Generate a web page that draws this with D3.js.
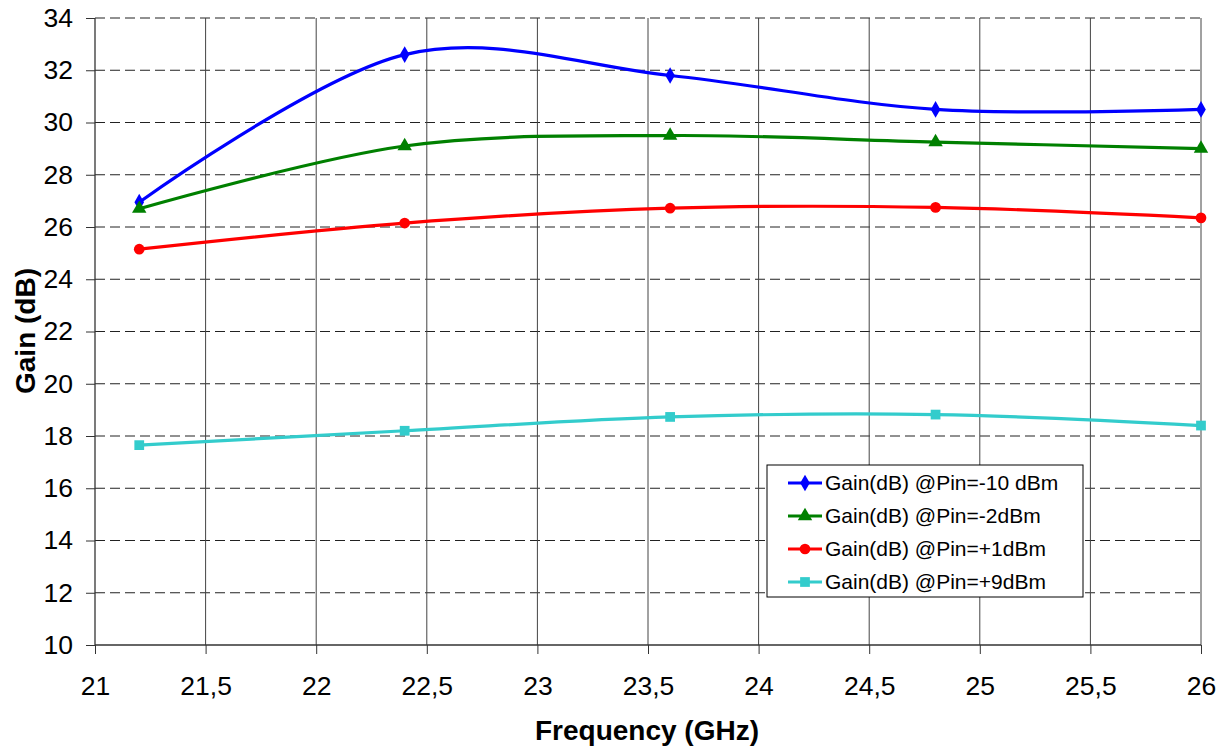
<!DOCTYPE html>
<html>
<head>
<meta charset="utf-8">
<script src="https://cdn.jsdelivr.net/npm/d3@7"></script>
<style>
    body { margin: 0; background: #fff; }
    svg { display: block; font-family: "Liberation Sans", Arial, sans-serif; }
</style>
</head>
<body>
<div id="chart"></div>
<script>
// Dados do gráfico
const frequencies = [21.2, 22.4, 23.6, 24.8, 26];
const gainPinM10 = [26.95, 32.6, 31.8, 30.5, 30.5];
const gainPinM2 = [26.7, 29.1, 29.5, 29.25, 29.0];
const gainPinP1 = [25.15, 26.15, 26.72, 26.75, 26.35];
const gainPinP9 = [17.65, 18.2, 18.73, 18.82, 18.4];
const seriesNames = [
    "Gain(dB) @Pin=-10 dBm",
    "Gain(dB) @Pin=-2dBm",
    "Gain(dB) @Pin=+1dBm",
    "Gain(dB) @Pin=+9dBm"
];
const xTicks = [21, 21.5, 22, 22.5, 23, 23.5, 24, 24.5, 25, 25.5, 26];
const yTicks = [10, 12, 14, 16, 18, 20, 22, 24, 26, 28, 30, 32, 34];

const series = [
    { name: seriesNames[0], values: gainPinM10, color: "#0000ff", marker: "diamond" },
    { name: seriesNames[1], values: gainPinM2, color: "#008000", marker: "triangle" },
    { name: seriesNames[2], values: gainPinP1, color: "#ff0000", marker: "circle" },
    { name: seriesNames[3], values: gainPinP9, color: "#33cccc", marker: "square" }
];

const width = 1225, height = 747;
const margin = { top: 18, right: 24, bottom: 102, left: 95 };
const innerW = width - margin.left - margin.right;
const innerH = height - margin.top - margin.bottom;

const svg = d3.select("#chart").append("svg")
    .attr("width", width)
    .attr("height", height);

const g = svg.append("g")
    .attr("transform", `translate(${margin.left},${margin.top})`);

const x = d3.scaleLinear().domain([21, 26]).range([0, innerW]);
const y = d3.scaleLinear().domain([10, 34]).range([innerH, 0]);

// Grade horizontal tracejada
g.append("g")
    .selectAll("line")
    .data(yTicks.filter(d => d > 10))
    .enter().append("line")
    .attr("x1", 0).attr("x2", innerW)
    .attr("y1", d => y(d)).attr("y2", d => y(d))
    .attr("stroke", "#222")
    .attr("stroke-width", 1)
    .attr("stroke-dasharray", "10,5");

// Grade vertical
g.append("g")
    .selectAll("line")
    .data(xTicks.filter(d => d > 21))
    .enter().append("line")
    .attr("x1", d => x(d)).attr("x2", d => x(d))
    .attr("y1", 0).attr("y2", innerH)
    .attr("stroke", "#444")
    .attr("stroke-width", 1);

// Eixos
const xAxis = g.append("g")
    .attr("transform", `translate(0,${innerH})`)
    .call(d3.axisBottom(x).tickValues(xTicks).tickSize(9).tickPadding(22)
        .tickFormat(d => String(d).replace(".", ",")));
const yAxis = g.append("g")
    .call(d3.axisLeft(y).tickValues(yTicks).tickSize(9).tickPadding(13));

[xAxis, yAxis].forEach(a => {
    a.select(".domain").attr("stroke", "#333").attr("stroke-width", 1.3);
    a.selectAll(".tick line").attr("stroke", "#333");
    a.selectAll("text").attr("font-size", 26.5).attr("fill", "#000")
        .attr("font-family", "'Liberation Sans', Arial, sans-serif");
});
xAxis.select(".domain").attr("d", `M0,0H${innerW}`);
yAxis.select(".domain").attr("d", `M0,0V${innerH}`);

// Títulos dos eixos
svg.append("text")
    .attr("x", 647)
    .attr("y", 740)
    .attr("text-anchor", "middle")
    .attr("font-size", 28)
    .attr("font-weight", "bold")
    .text("Frequency (GHz)");

svg.append("text")
    .attr("transform", `translate(35,331) rotate(-90)`)
    .attr("text-anchor", "middle")
    .attr("font-size", 28)
    .attr("font-weight", "bold")
    .text("Gain (dB)");

// Marcadores
const symbolOf = {
    diamond: d3.symbolDiamond,
    triangle: d3.symbolTriangle,
    circle: d3.symbolCircle,
    square: d3.symbolSquare
};
const sizeOf = { diamond: 80, triangle: 90, circle: 90, square: 95 };

const line = d3.line()
    .x(d => x(d.f))
    .y(d => y(d.v))
    .curve(d3.curveCardinal.tension(0));

series.forEach(s => {
    const pts = frequencies.map((f, i) => ({ f: f, v: s.values[i] }));
    g.append("path")
        .datum(pts)
        .attr("fill", "none")
        .attr("stroke", s.color)
        .attr("stroke-width", 3.2)
        .attr("d", line);
    g.append("g")
        .selectAll("path")
        .data(pts)
        .enter().append("path")
        .attr("transform", d => `translate(${x(d.f)},${y(d.v)})`)
        .attr("d", d3.symbol().type(symbolOf[s.marker]).size(sizeOf[s.marker]))
        .attr("fill", s.color);
});

// Legenda
const legend = svg.append("g").attr("transform", "translate(767,465)");
legend.append("rect")
    .attr("width", 316).attr("height", 132)
    .attr("fill", "#fff")
    .attr("stroke", "#000").attr("stroke-width", 1);

const item = legend.selectAll("g.item")
    .data(series)
    .enter().append("g")
    .attr("class", "item")
    .attr("transform", (d, i) => `translate(0,${18 + i * 33})`);

item.append("line")
    .attr("x1", 21).attr("x2", 55)
    .attr("stroke", d => d.color)
    .attr("stroke-width", 3.2);
item.append("path")
    .attr("transform", "translate(38,0)")
    .attr("d", d => d3.symbol().type(symbolOf[d.marker]).size(sizeOf[d.marker])())
    .attr("fill", d => d.color);
item.append("text")
    .attr("x", 58)
    .attr("dy", "0.35em")
    .attr("font-size", 21)
    .text(d => d.name);
</script>
</body>
</html>
